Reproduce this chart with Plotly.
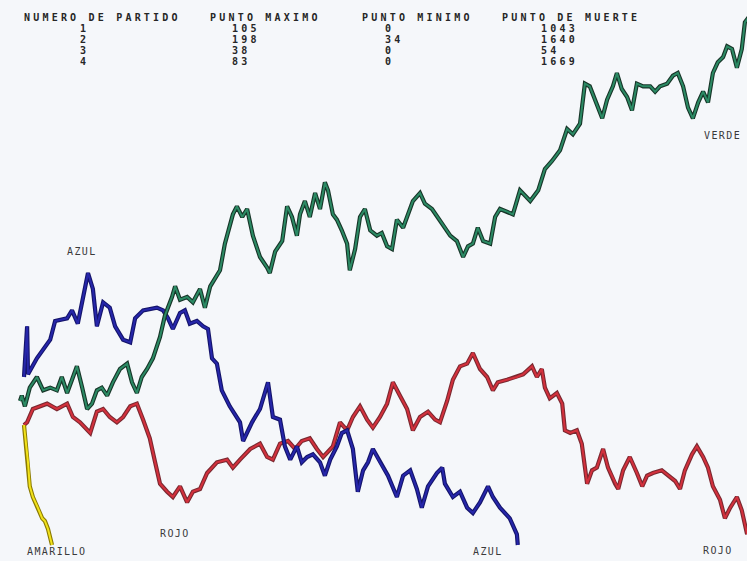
import plotly.graph_objects as go

# Random-walk games: step number (x) against current point (y)
azul_steps = [9, 16, 18, 38, 68, 79, 106, 117, 130, 142, 153, 164, 173, 187, 202, 214, 232, 248,
              259, 277, 308, 322, 333, 344, 360, 371, 382, 398, 412, 423, 432, 443, 454, 472,
              495, 502, 513, 522, 540, 558, 569, 585, 596, 608, 623, 634, 646, 659, 675, 686,
              698, 713, 724, 736, 749, 760, 772, 783, 794, 810, 828, 848, 862, 878, 893, 904,
              918, 938, 950, 956, 974, 990, 1006, 1019, 1035, 1053, 1064, 1080, 1102, 1118, 1120]
azul_points = [63, 82, 64, 70, 77, 84, 85, 88, 83, 93, 102, 96, 82, 91, 89, 82, 77, 76,
               85, 88, 89, 88, 85, 81, 87, 88, 83, 84, 82, 81, 70, 68, 58, 52,
               46, 39, 43, 46, 51, 61, 48, 47, 37, 32, 37, 31, 33, 34, 31, 26,
               32, 37, 42, 43, 36, 20, 28, 31, 36, 31, 26, 18, 26, 28, 21, 14,
               22, 27, 29, 23, 18, 20, 14, 12, 16, 22, 18, 14, 10, 4, 0]

rojo_steps = [9, 16, 29, 61, 83, 106, 119, 135, 158, 173, 187, 202, 218, 232, 248, 263, 277,
              292, 304, 315, 331, 344, 360, 376, 389, 405, 421, 443, 466, 479, 495, 518, 540,
              556, 569, 585, 603, 619, 634, 652, 668, 682, 704, 720, 736, 749, 765, 781, 794,
              810, 826, 839, 855, 871, 884, 900, 918, 934, 945, 961, 974, 990, 1006, 1019,
              1035, 1051, 1064, 1075, 1096, 1118, 1132, 1152, 1163, 1174, 1181, 1192, 1208,
              1220, 1226, 1238, 1253, 1264, 1276, 1287, 1298, 1312, 1323, 1339, 1346, 1357,
              1372, 1388, 1400, 1411, 1424, 1444, 1458, 1474, 1485, 1496, 1512, 1523, 1537,
              1548, 1559, 1575, 1586, 1598, 1613, 1624, 1636]
rojo_points = [45, 46, 51, 53, 51, 53, 48, 46, 42, 50, 51, 48, 46, 48, 52, 53, 47,
               40, 31, 23, 20, 18, 22, 16, 20, 21, 27, 31, 32, 29, 32, 36, 38,
               33, 32, 38, 39, 36, 39, 40, 36, 33, 37, 46, 43, 48, 52, 47, 44,
               48, 53, 61, 56, 51, 43, 48, 50, 47, 46, 54, 62, 67, 68, 72,
               66, 63, 58, 61, 62, 63, 64, 67, 63, 66, 59, 55, 57,
               53, 43, 42, 43, 38, 23, 28, 29, 36, 29, 23, 21, 28,
               33, 27, 22, 26, 27, 28, 26, 24, 21, 28, 34, 37, 33,
               29, 22, 17, 10, 14, 18, 13, 4]

verde_steps = [0, 4, 11, 22, 38, 52, 68, 83, 94, 106, 117, 128, 140, 151, 162, 173, 184, 196,
               209, 225, 241, 252, 263, 274, 286, 299, 315, 326, 342, 349, 360, 376, 389, 405,
               416, 428, 450, 461, 479, 488, 500, 511, 524, 540, 556, 562, 574, 590, 601, 612,
               623, 630, 641, 652, 664, 675, 686, 693, 704, 713, 724, 736, 742, 754, 765, 776,
               788, 803, 814, 826, 837, 848, 862, 873, 884, 900, 911, 927, 940, 956, 968, 983,
               997, 1008, 1019, 1030, 1042, 1058, 1069, 1080, 1096, 1109, 1125, 1148, 1166,
               1181, 1197, 1215, 1231, 1244, 1260, 1271, 1282, 1294, 1310, 1321, 1334, 1343,
               1354, 1366, 1377, 1388, 1402, 1418, 1429, 1440, 1456, 1469, 1480, 1492, 1503,
               1514, 1526, 1537, 1548, 1559, 1570, 1582, 1591, 1602, 1613, 1624, 1631, 1640]
verde_points = [54, 56, 52, 59, 63, 58, 59, 58, 63, 57, 62, 67, 59, 51, 53, 58, 59, 56,
                61, 66, 68, 61, 57, 63, 66, 70, 78, 86, 93, 97, 92, 93, 91, 96,
                89, 97, 103, 113, 124, 127, 123, 126, 116, 108, 104, 102, 110, 114, 127, 123,
                116, 124, 129, 123, 132, 126, 136, 133, 124, 122, 118, 113, 103, 111, 123, 126,
                118, 116, 117, 112, 111, 122, 119, 124, 129, 132, 128, 126, 123, 119, 116, 114,
                108, 112, 113, 119, 114, 113, 123, 126, 125, 124, 133, 129, 133,
                141, 144, 148, 156, 154, 158, 173, 172, 167, 160, 167, 172, 177,
                171, 168, 163, 173, 172, 172, 170, 172, 173, 176, 177, 172, 164,
                160, 166, 170, 166, 177, 181, 183, 187, 186, 179, 186, 196, 198]

amarillo_steps = [9, 18, 22, 29, 40, 50, 56, 63, 72]
amarillo_points = [45, 31, 22, 18, 14, 10, 9, 6, 0]

# Summary table printed above the walks
table_header = ["NUMERO DE PARTIDO", "PUNTO MAXIMO", "PUNTO MINIMO", "PUNTO DE MUERTE"]
partido = ["1", "2", "3", "4"]
punto_maximo = ["105", "198", "38", "83"]
punto_minimo = ["0", "34", "0", "0"]
punto_muerte = ["1043", "1640", "54", "1669"]

W, H = 747, 561
BG = "#f5f7fa"

series = [
    (rojo_steps, rojo_points, "#7a2830", "#d3303c"),
    (azul_steps, azul_points, "#14146a", "#2626aa"),
    (verde_steps, verde_points, "#173528", "#2b8a64"),
    (amarillo_steps, amarillo_points, "#8a7a00", "#f2e21a"),
]

fig = go.Figure()
for xs, ys, dark, main in series:
    fig.add_trace(go.Scatter(x=xs, y=ys, mode="lines",
                             line=dict(color=dark, width=4.2), hoverinfo="skip"))
    fig.add_trace(go.Scatter(x=xs, y=ys, mode="lines",
                             line=dict(color=main, width=2.0), hoverinfo="skip"))

def spaced(text, ls):
    return f'<span style="letter-spacing:{ls}px">{text}</span>'

TABLE_FONT = dict(family="DejaVu Sans Mono", size=10, color="#262626", weight="bold")
LABEL_FONT = dict(family="DejaVu Sans Mono", size=10, color="#3a3a3a")

annotations = []
# header row
for text, left in zip(table_header, [22, 208, 360, 500]):
    annotations.append(dict(text=spaced(text, 3.2), x=left / W, y=1 - 17 / H,
                            xref="paper", yref="paper", xanchor="left", yanchor="middle",
                            showarrow=False, font=TABLE_FONT, height=10))
row_y = [28, 39, 50, 61]
for i, ry in enumerate(row_y):
    yy = 1 - ry / H
    annotations.append(dict(text=spaced(partido[i], 3.2), x=84 / W, y=yy, xref="paper",
                            yref="paper", xanchor="center", yanchor="middle",
                            showarrow=False, font=TABLE_FONT, height=10))
    for col, left in ((punto_maximo, 230), (punto_minimo, 383), (punto_muerte, 539)):
        annotations.append(dict(text=spaced(col[i], 3.2), x=left / W, y=yy, xref="paper",
                                yref="paper", xanchor="left", yanchor="middle",
                                showarrow=False, font=TABLE_FONT, height=10))

# series names
labels = [("AZUL", 139, 110), ("ROJO", 349, 4.5), ("AMARILLO", 83, -2.6),
          ("AZUL", 1053, -2.3), ("ROJO", 1570, -1.9), ("VERDE", 1580, 153.4)]
for text, lx, ly in labels:
    annotations.append(dict(text=spaced(text, 1.4), x=lx, y=ly, xref="x", yref="y",
                            xanchor="center", yanchor="middle", showarrow=False,
                            font=LABEL_FONT))

fig.update_layout(
    width=W, height=H,
    margin=dict(l=0, r=0, t=0, b=0),
    paper_bgcolor=BG, plot_bgcolor=BG,
    showlegend=False,
    xaxis=dict(range=[-45, 1635.75], visible=False, fixedrange=True),
    yaxis=dict(range=[-6, 204.375], visible=False, fixedrange=True),
    annotations=annotations,
)

fig.write_html("out.html", config={"displayModeBar": False})
